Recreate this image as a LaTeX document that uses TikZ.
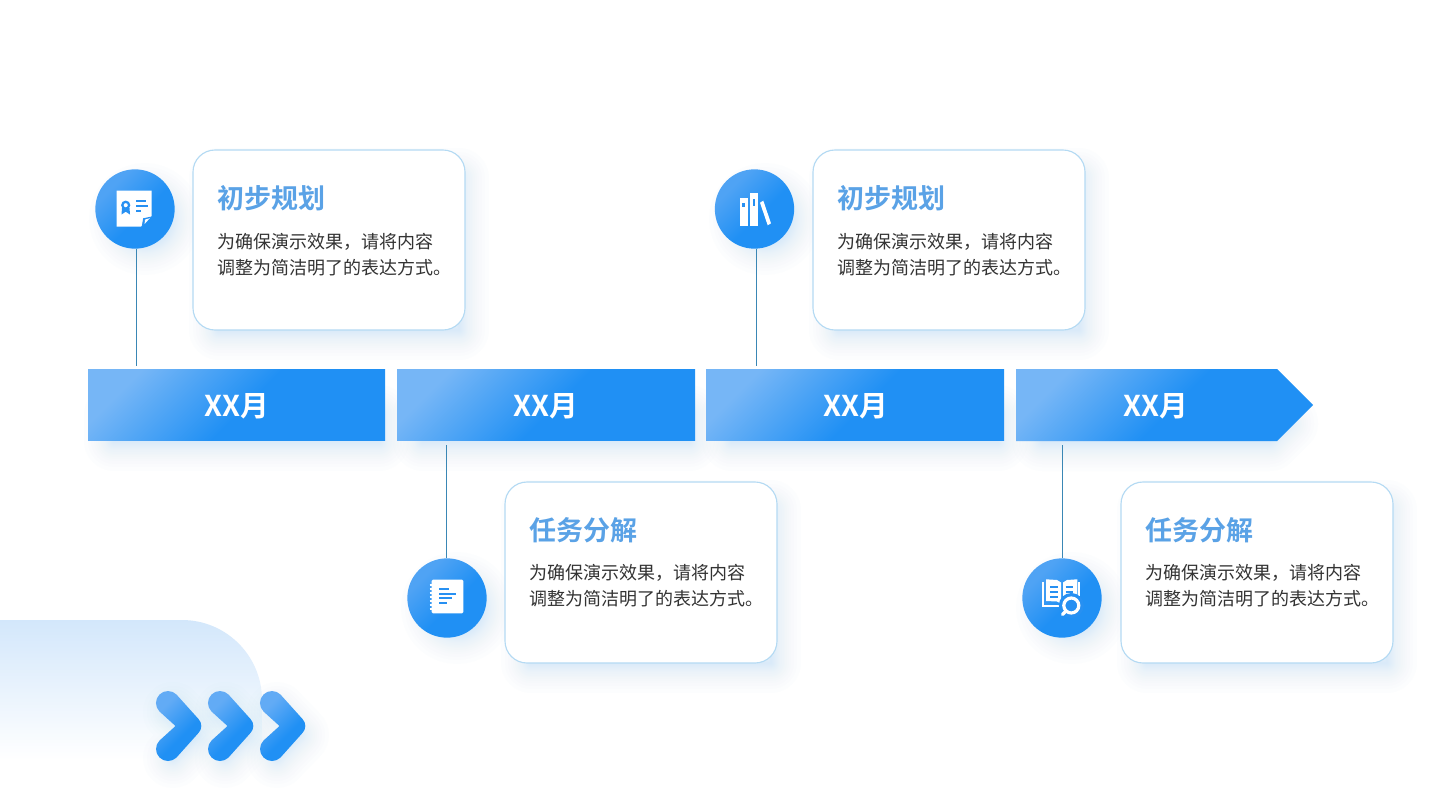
\documentclass[tikz,border=0pt]{standalone}
\usepackage{fontspec}
\setmainfont{Noto Sans CJK SC}[BoldFont={Noto Sans CJK SC Bold}]
\usetikzlibrary{calc}
\definecolor{gradA}{HTML}{76B6F6}
\definecolor{gradB}{HTML}{2090F4}
\definecolor{gradC}{HTML}{4FA3F4}
\definecolor{gradD}{HTML}{62ABF5}
\definecolor{shadowblue}{HTML}{7DBBF9}
\definecolor{cardline}{HTML}{B4DAF3}
\definecolor{conn}{HTML}{3A87B5}
\definecolor{titleblue}{HTML}{5AA2E6}
\definecolor{bodyink}{HTML}{333333}
\definecolor{iconblue}{HTML}{2790F2}
\definecolor{paleA}{HTML}{D3E7FB}
\pgfdeclarehorizontalshading{bluegrad}{100bp}{color(0bp)=(gradA); color(25bp)=(gradA); color(52bp)=(gradB); color(100bp)=(gradB)}
\pgfdeclarehorizontalshading{badgegrad}{100bp}{color(0bp)=(gradC); color(30bp)=(gradC); color(55bp)=(gradB); color(100bp)=(gradB)}
\pgfdeclarehorizontalshading{chevgrad}{100bp}{color(0bp)=(gradD); color(30bp)=(gradD); color(58bp)=(gradB); color(100bp)=(gradB)}
\pgfdeclareverticalshading{palegrad}{100bp}{color(0bp)=(white); color(25bp)=(white); color(75bp)=(paleA); color(100bp)=(paleA)}
\tikzset{
  x=.75pt,y=-.75pt,
  card/.style={draw=cardline,line width=.85pt,fill=white,rounded corners=16.5pt,minimum width=204pt,minimum height=135pt,inner sep=0pt,outer sep=0pt},
  badge/.style={circle,shading=badgegrad,shading angle=-45,minimum size=59.5pt,inner sep=0pt,outer sep=0pt},
  monthbar/.style={shading=bluegrad,shading angle=-45,minimum height=53.7pt,inner sep=0pt,outer sep=0pt},
  monthtext/.style={inner sep=0pt,outer sep=0pt,text=white,font=\bfseries\fontsize{21.5}{24}\selectfont},
  cardtitle/.style={anchor=west,inner sep=0pt,text=titleblue,font=\bfseries\fontsize{20.25}{24}\selectfont},
  cardbody/.style={anchor=north west,inner sep=0pt,align=left,text=bodyink,font=\fontsize{13.5}{19.7}\selectfont},
  connector/.style={draw=conn,line width=.72pt},
  iconfill/.style={fill=white,draw=none},
  iconink/.style={draw=iconblue,line width=1.4pt},
}
% soft shadow: #1 = path; strokes widen around an inner outline hidden behind the object
\newcommand{\softshadow}[1]{%
  \foreach \w in {1.5,3,4.5,6,7.5,9,10.5,12,14,16.5,19,21,24,27,30,34.5,39,45}{\draw[draw=shadowblue,draw opacity=.014,line width=\w pt,line join=round,line cap=round] #1;}}
\newcommand{\chevronpath}{(159.5,711.5) arc[start angle=135,end angle=315,radius=12] -- (198.4,718.9) arc[start angle=-45,end angle=45,radius=10] -- (176.5,757.5) arc[start angle=45,end angle=225,radius=12] -- (175.5,726) -- cycle}
\begin{document}
\begin{tikzpicture}
\useasboundingbox (0,0) rectangle (1440,810);
\fill[white] (0,0) rectangle (1440,810);
% corner panel
\shade[shading=palegrad] (0,620) -- (182,620) arc[start angle=-90,end angle=0,radius=80] -- (262,760) -- (0,760) -- cycle;
% shadows
\softshadow{(219,178) rectangle (459,330)}
\softshadow{(839,178) rectangle (1079,330)}
\softshadow{(531,510) rectangle (771,663)}
\softshadow{(1147,510) rectangle (1387,663)}
\softshadow{(114,415) rectangle (379,441)}
\softshadow{(423,415) rectangle (689,441)}
\softshadow{(732,415) rectangle (998,441)}
\softshadow{(1042,415) -- (1270,415) -- (1288,423) -- (1270,441) -- (1042,441) -- cycle}
\softshadow{(145,219) circle[radius=26]}
\softshadow{(765,219) circle[radius=26]}
\softshadow{(457,608) circle[radius=26]}
\softshadow{(1072,608) circle[radius=26]}
% cards
\node[card] (k1) at (329,240) {};
\node[card] (k2) at (949,240) {};
\node[card,minimum height=135.75pt] (k3) at (641,572.5) {};
\node[card,minimum height=135.75pt] (k4) at (1257,572.5) {};
% card text
\node[cardtitle] (t1) at (217,198) {初步规划};
\node[cardbody] (b1) at (217,232.5) {为确保演示效果，请将内容\\调整为简洁明了的表达方式。};
\node[cardtitle] (t2) at (837,198) {初步规划};
\node[cardbody] (b2) at (837,232.5) {为确保演示效果，请将内容\\调整为简洁明了的表达方式。};
\node[cardtitle] (t3) at (529,530.5) {任务分解};
\node[cardbody] (b3) at (529,563.7) {为确保演示效果，请将内容\\调整为简洁明了的表达方式。};
\node[cardtitle] (t4) at (1145,530.5) {任务分解};
\node[cardbody] (b4) at (1145,563.7) {为确保演示效果，请将内容\\调整为简洁明了的表达方式。};
% month bars
\node[monthbar,minimum width=222.75pt] (m1) at (236.5,404.9) {};
\node[monthbar,minimum width=223.5pt] (m2) at (546,404.9) {};
\node[monthbar,minimum width=223.5pt] (m3) at (855,404.9) {};
\shade[shading=bluegrad,shading angle=-45] (1016,369) -- (1277,369) -- (1313,405) -- (1277,441) -- (1016,441) -- cycle;
\node[monthtext] (l1) at (236.5,405.8) {XX月};
\node[monthtext] (l2) at (545.5,405.8) {XX月};
\node[monthtext] (l3) at (855.5,405.8) {XX月};
\node[monthtext] (l4) at (1155.5,405.8) {XX月};
% connector ends
\coordinate (a1) at (136,366);
\coordinate (a2) at (446.5,445);
\coordinate (a3) at (756,366);
\coordinate (a4) at (1062,445);
% badges
\node[badge] (c1) at (135,209) {};
\node[badge] (c2) at (447,598) {};
\node[badge] (c3) at (754.5,209) {};
\node[badge] (c4) at (1062,598) {};
\draw[connector] (c1.south -| a1) -- (a1);
\draw[connector] (c2.north -| a2) -- (a2);
\draw[connector] (c3.south -| a3) -- (a3);
\draw[connector] (c4.north -| a4) -- (a4);
% chevrons
\foreach \dx in {0,52,104}{
  \begin{scope}[shift={(\dx+5,9)}]
  \softshadow{(168,703) -- (190,726) -- (168,749)}
  \end{scope}
}
\foreach \dx in {0,52,104}{
  \begin{scope}[shift={(\dx,0)}]
  \shade[shading=chevgrad,shading angle=-45] \chevronpath;
  \end{scope}
}
% icon 1
\fill[iconfill] (116.7,190.7) -- (151.7,190.7) -- (151.7,216) -- (141,226.7) -- (116.7,226.7) -- cycle;
\fill[iconblue] (151.7,216.5) -- (143.2,218.3) -- (141.7,226.7) -- cycle;
\fill[white] (149.8,218.2) -- (145,219.6) -- (144.6,224) -- cycle;
\draw[iconblue,line width=1.7pt] (125.7,205.2) circle[radius=3.4];
\fill[iconblue] (122,208) -- (121.5,214.5) -- (125.7,211.7) -- (130,214.5) -- (129.5,208) -- cycle;
\draw[iconink] (136,200.7) -- (146,200.7);
\draw[iconink] (136,205.7) -- (148,205.7);
\draw[iconink] (136,210.7) -- (141,210.7);
% icon 3 books
\fill[iconfill] (739.7,197.7) rectangle (748.3,226);
\fill[iconfill] (750,193.3) rectangle (758.3,226);
\fill[iconfill] (760,202.7) -- (763.3,200.7) -- (771,223.3) -- (767.7,225.3) -- cycle;
\fill[iconblue] (742.3,203.3) rectangle (744.7,206.7);
\fill[iconblue] (752.7,199.3) rectangle (754.7,206);
% icon 2 notebook
\fill[iconfill,rounded corners=1pt] (431.7,579.7) rectangle (463.3,613.3);
\foreach \yy in {585,589,593,597,601,605,609}{\draw[white,line width=1pt] (429.5,\yy) -- (432,\yy);}
\draw[iconink] (439.3,589) -- (449,589);
\draw[iconink] (439.3,593.7) -- (456.3,593.7);
\draw[iconink] (439.3,598.3) -- (452.3,598.3);
\draw[iconink] (439.3,603) -- (446.7,603);
% icon 4 open book with magnifier
\draw[white,line width=1.5pt] (1043,582) -- (1043,606.3) -- (1062,606.3);
\draw[white,line width=1.5pt] (1079,582) -- (1079,596);
\fill[iconfill] (1046,579.3) -- (1057,580) -- (1061,582.5) -- (1061,603.7) -- (1057,601.5) -- (1046,601) -- cycle;
\fill[iconfill] (1077.3,579.3) -- (1067,580) -- (1063,582.5) -- (1063,603.7) -- (1067,601.5) -- (1077.3,601) -- cycle;
\foreach \yy in {587,592,597}{\draw[iconink] (1050,\yy) -- (1057.7,\yy);}
\foreach \yy in {587,592}{\draw[iconink] (1065.5,\yy) -- (1073.3,\yy);}
\fill[iconblue] (1071.3,605.5) circle[radius=12.5];
\draw[white,line width=2.4pt] (1071.3,605.5) circle[radius=7.5];
\draw[white,line width=2.6pt,line cap=round] (1066,611) -- (1062.5,614.5);
\end{tikzpicture}
\end{document}
